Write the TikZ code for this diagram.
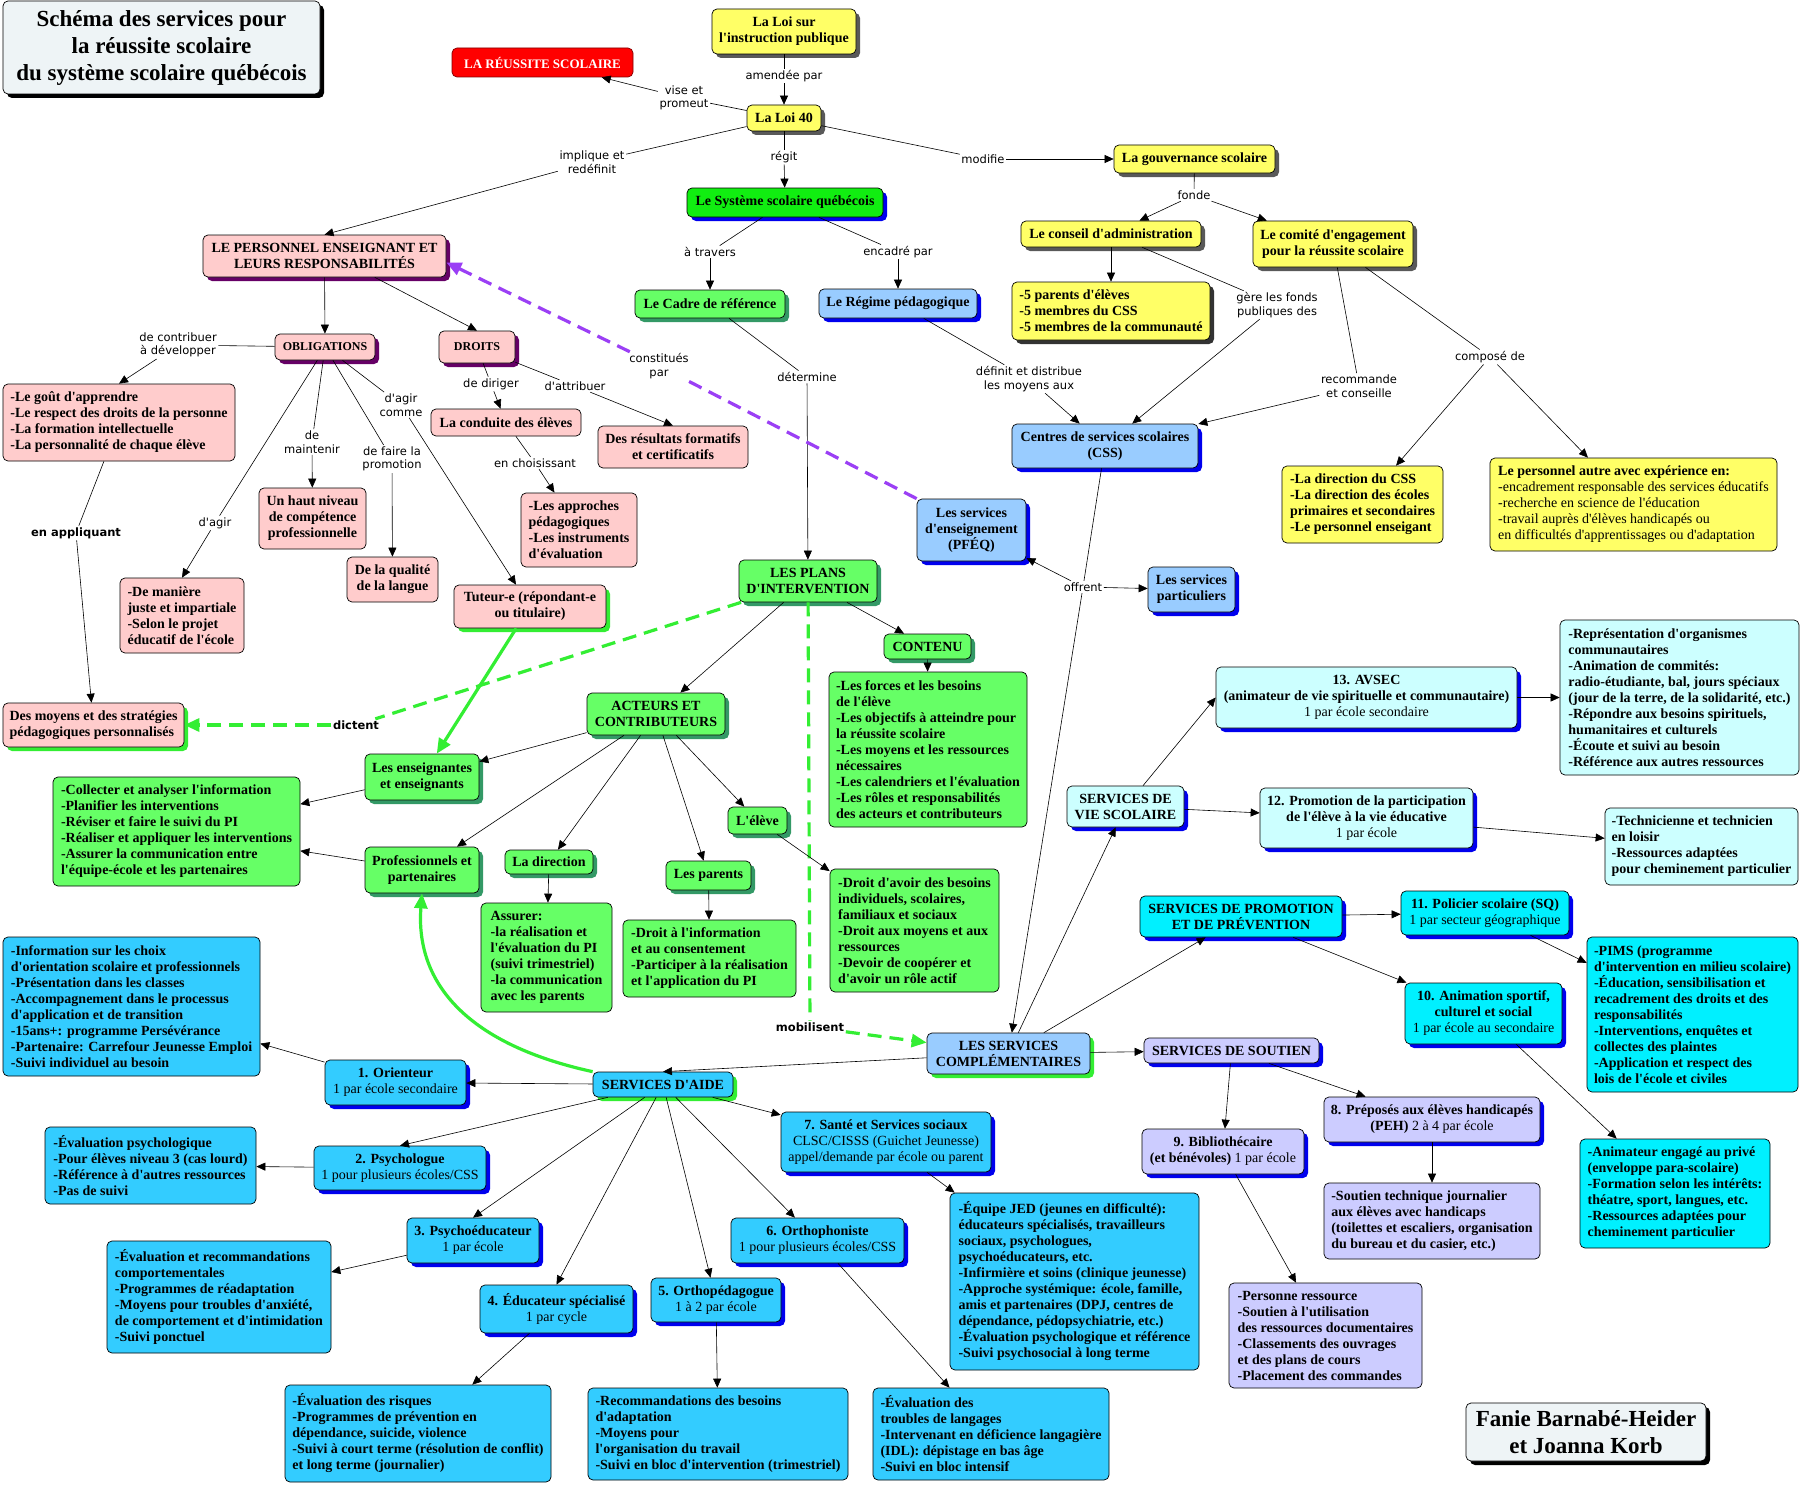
\documentclass[tikz,border=0pt]{standalone}
\usepackage{fontspec}
\setmainfont{Liberation Serif}[Ligatures=TeXOff]
\newfontfamily\lblfont{DejaVu Sans}[Ligatures=TeXOff]
\usetikzlibrary{arrows.meta,shadows}
\definecolor{cyel}{HTML}{FFFF66}
\definecolor{cpink}{HTML}{FFCCCC}
\definecolor{cpurp}{HTML}{660066}
\definecolor{cgreen}{HTML}{66FF66}
\definecolor{cdkgreen}{HTML}{339966}
\definecolor{cbright}{HTML}{11EE11}
\definecolor{cblue}{HTML}{99CCFF}
\definecolor{cshblue}{HTML}{0000EE}
\definecolor{caide}{HTML}{33CCFF}
\definecolor{ccyan}{HTML}{00F0FF}
\definecolor{cpale}{HTML}{CCFFFF}
\definecolor{clav}{HTML}{CCCCFF}
\definecolor{ctitle}{HTML}{EEF4F6}
\definecolor{cgrn}{HTML}{33EE33}
\definecolor{cpurline}{HTML}{9B3FF5}
\newcommand\mdtxt[1]{{\mdseries #1}}
\newcommand\mkbox[7]{%
  \pgfmathsetmacro\bxw{#5-#3}%
  \pgfmathsetmacro\bxh{#6-#4}%
  \pgfmathsetmacro\bxcx{(#3+#5)/2}%
  \pgfmathsetmacro\bxcy{(#4+#6)/2}%
  \node[box,#2,minimum width=\bxw pt,minimum height=\bxh pt] (#1) at (\bxcx,\bxcy) {#7};}
\begin{document}
\begin{tikzpicture}[x=1pt,y=-1pt,
  box/.style={rounded corners=5pt,draw=black,line width=0.7pt,font=\bfseries\fontsize{14}{16}\selectfont,inner sep=3pt,align=center},
  sh/.style={general shadow={shadow xshift=4pt,shadow yshift=-4pt,fill=#1}},
  lbl/.style={font=\lblfont\fontsize{11.5}{13.5}\selectfont,inner sep=1.5pt,align=center},
  blbl/.style={font=\lblfont\bfseries\fontsize{11.5}{13.5}\selectfont,inner sep=1.5pt,align=center},
  ln/.style={line width=0.6pt},
  arr/.style={line width=0.6pt,-{Triangle[length=9pt,width=8pt]}},
  garr/.style={line width=3.2pt,draw=cgrn,-{Triangle[length=15pt,width=13pt]}},
  gdash/.style={line width=3.2pt,draw=cgrn,dash pattern=on 14pt off 8pt},
  gdasharr/.style={gdash,-{Triangle[length=15pt,width=13pt]}},
  purp/.style={line width=3.2pt,draw=cpurline,dash pattern=on 14pt off 8pt},
  purparr/.style={purp,-{Triangle[length=15pt,width=13pt]}}]
\useasboundingbox (0,0) rectangle (1802,1485);
\fill[white] (0,0) rectangle (1802,1485);
% titles
\mkbox{title}{fill=ctitle,sh=black,font=\bfseries\fontsize{23}{27}\selectfont}{3}{1}{320}{94}{Schéma des services pour\\la réussite scolaire\\du système scolaire québécois}
\mkbox{fanie}{fill=ctitle,sh=black,font=\bfseries\fontsize{23}{27}\selectfont}{1466}{1403}{1706}{1461}{Fanie Barnabé-Heider\\et Joanna Korb}
\mkbox{reussite}{fill=red,draw=red!50!black,text=white,font=\bfseries\fontsize{13}{15}\selectfont}{452}{48}{633}{77}{LA RÉUSSITE SCOLAIRE}
% yellow
\mkbox{loisur}{fill=cyel,sh=black!65}{712}{9}{856}{54}{La Loi sur\\l'instruction publique}
\mkbox{loi}{fill=cyel,sh=black!65}{747}{105}{821}{131}{La Loi 40}
\mkbox{gouv}{fill=cyel,sh=black!65}{1114}{145}{1275}{173}{La gouvernance scolaire}
\mkbox{conseil}{fill=cyel,sh=black!65}{1021}{221}{1201}{247}{Le conseil d'administration}
\mkbox{cinq}{fill=cyel,sh=black!80,align=left}{1012}{282}{1210}{340}{-5 parents d'élèves\\-5 membres du CSS\\-5 membres de la communauté}
\mkbox{comite}{fill=cyel,sh=black!65}{1253}{221}{1413}{267}{Le comité d'engagement\\pour la réussite scolaire}
\mkbox{dircss}{fill=cyel,align=left}{1282}{466}{1443}{543}{-La direction du CSS\\-La direction des écoles\\primaires et secondaires\\-Le personnel enseigant}
\mkbox{autre}{fill=cyel,align=left}{1490}{458}{1777}{551}{Le personnel autre avec expérience en:\\\mdtxt{-encadrement responsable des services éducatifs}\\\mdtxt{-recherche en science de l'éducation}\\\mdtxt{-travail auprès d'élèves handicapés ou}\\\mdtxt{en difficultés d'apprentissages ou d'adaptation}}
% pink
\mkbox{personnel}{fill=cpink,sh=cpurp}{203}{235}{446}{277}{LE PERSONNEL ENSEIGNANT ET\\LEURS RESPONSABILITÉS}
\mkbox{oblig}{fill=cpink,sh=cpurp,font=\bfseries\fontsize{12}{14}\selectfont}{275}{334}{375}{360}{OBLIGATIONS}
\mkbox{droits}{fill=cpink,sh=cpurp,font=\bfseries\fontsize{12}{14}\selectfont}{439}{331}{515}{363}{DROITS}
\mkbox{gout}{fill=cpink,align=left}{3}{384}{235}{461}{-Le goût d'apprendre\\-Le respect des droits de la personne\\-La formation intellectuelle\\-La personnalité de chaque élève}
\mkbox{haut}{fill=cpink}{259}{488}{366}{549}{Un haut niveau\\de compétence\\professionnelle}
\mkbox{qualite}{fill=cpink}{347}{557}{438}{602}{De la qualité\\de la langue}
\mkbox{maniere}{fill=cpink,align=left}{120}{578}{244}{653}{-De manière\\juste et impartiale\\-Selon le projet\\éducatif de l'école}
\mkbox{tuteur}{fill=cpink,sh=cgrn}{454}{585}{606}{628}{Tuteur-e (répondant-e\\ou titulaire)}
\mkbox{conduite}{fill=cpink}{431}{409}{581}{436}{La conduite des élèves}
\mkbox{approches}{fill=cpink,align=left}{521}{493}{637}{567}{-Les approches\\pédagogiques\\-Les instruments\\d'évaluation}
\mkbox{resultats}{fill=cpink}{598}{426}{748}{468}{Des résultats formatifs\\et certificatifs}
\mkbox{moyens}{fill=cpink,sh=cgrn,align=left}{3}{703}{184}{747}{Des moyens et des stratégies\\pédagogiques personnalisés}
% green
\mkbox{systeme}{fill=cbright,sh=cshblue}{687}{188}{883}{217}{Le Système scolaire québécois}
\mkbox{cadre}{fill=cgreen,sh=cdkgreen}{635}{290}{785}{318}{Le Cadre de référence}
\mkbox{plans}{fill=cgreen,sh=cdkgreen}{739}{560}{877}{602}{LES PLANS\\D'INTERVENTION}
\mkbox{contenu}{fill=cgreen,sh=cdkgreen}{884}{634}{971}{659}{CONTENU}
\mkbox{contenubox}{fill=cgreen,align=left}{829}{672}{1027}{827}{-Les forces et les besoins\\de l'élève\\-Les objectifs à atteindre pour\\la réussite scolaire\\-Les moyens et les ressources\\nécessaires\\-Les calendriers et l'évaluation\\-Les rôles et responsabilités\\des acteurs et contributeurs}
\mkbox{acteurs}{fill=cgreen,sh=cdkgreen}{587}{693}{725}{735}{ACTEURS ET\\CONTRIBUTEURS}
\mkbox{enseign}{fill=cgreen,sh=cdkgreen}{365}{754}{479}{800}{Les enseignantes\\et enseignants}
\mkbox{collecter}{fill=cgreen,align=left}{53}{777}{300}{886}{-Collecter et analyser l'information\\-Planifier les interventions\\-Réviser et faire le suivi du PI\\-Réaliser et appliquer les interventions\\-Assurer la communication entre\\l'équipe-école et les partenaires}
\mkbox{prof}{fill=cgreen,sh=cdkgreen}{365}{847}{479}{893}{Professionnels et\\partenaires}
\mkbox{direction}{fill=cgreen,sh=cdkgreen}{505}{850}{593}{874}{La direction}
\mkbox{assurer}{fill=cgreen,align=left}{481}{903}{612}{1012}{Assurer:\\-la réalisation et\\l'évaluation du PI\\(suivi trimestriel)\\-la communication\\avec les parents}
\mkbox{parents}{fill=cgreen,sh=cdkgreen}{666}{861}{751}{890}{Les parents}
\mkbox{droitinfo}{fill=cgreen,align=left}{623}{920}{796}{997}{-Droit à l'information\\et au consentement\\-Participer à la réalisation\\et l'application du PI}
\mkbox{eleve}{fill=cgreen,sh=cdkgreen}{728}{807}{787}{834}{L'élève}
\mkbox{droitavoir}{fill=cgreen,align=left}{830}{869}{999}{992}{-Droit d'avoir des besoins\\individuels, scolaires,\\familiaux et sociaux\\-Droit aux moyens et aux\\ressources\\-Devoir de coopérer et\\d'avoir un rôle actif}
% light blue
\mkbox{regime}{fill=cblue,sh=cshblue}{819}{289}{977}{318}{Le Régime pédagogique}
\mkbox{css}{fill=cblue,sh=cshblue}{1012}{424}{1198}{468}{Centres de services scolaires\\(CSS)}
\mkbox{enseignement}{fill=cblue,sh=cshblue}{917}{499}{1026}{561}{Les services\\d'enseignement\\(PFÉQ)}
\mkbox{particuliers}{fill=cblue,sh=cshblue}{1148}{567}{1235}{612}{Les services\\particuliers}
\mkbox{compl}{fill=cblue,sh=cgrn}{927}{1033}{1090}{1074}{LES SERVICES\\COMPLÉMENTAIRES}
% services d'aide
\mkbox{aide}{fill=caide,sh=cgrn}{593}{1072}{733}{1097}{SERVICES D'AIDE}
\mkbox{orienteur}{fill=caide,sh=cshblue}{325}{1060}{466}{1105}{1. Orienteur\\\mdtxt{1 par école secondaire}}
\mkbox{infobox}{fill=caide,align=left}{3}{937}{260}{1076}{-Information sur les choix\\d'orientation scolaire et professionnels\\-Présentation dans les classes\\-Accompagnement dans le processus\\d'application et de transition\\-15ans+: programme Persévérance\\-Partenaire: Carrefour Jeunesse Emploi\\-Suivi individuel au besoin}
\mkbox{psycho}{fill=caide,sh=cshblue}{314}{1146}{486}{1190}{2. Psychologue\\\mdtxt{1 pour plusieurs écoles/CSS}}
\mkbox{evalpsy}{fill=caide,align=left}{45}{1127}{256}{1204}{-Évaluation psychologique\\-Pour élèves niveau 3 (cas lourd)\\-Référence à d'autres ressources\\-Pas de suivi}
\mkbox{psychoed}{fill=caide,sh=cshblue}{407}{1218}{539}{1263}{3. Psychoéducateur\\\mdtxt{1 par école}}
\mkbox{evalrec}{fill=caide,align=left}{107}{1241}{331}{1353}{-Évaluation et recommandations\\comportementales\\-Programmes de réadaptation\\-Moyens pour troubles d'anxiété,\\de comportement et d'intimidation\\-Suivi ponctuel}
\mkbox{educ}{fill=caide,sh=cshblue}{480}{1285}{633}{1333}{4. Éducateur spécialisé\\\mdtxt{1 par cycle}}
\mkbox{risques}{fill=caide,align=left}{285}{1385}{551}{1482}{-Évaluation des risques\\-Programmes de prévention en\\dépendance, suicide, violence\\-Suivi à court terme (résolution de conflit)\\et long terme (journalier)}
\mkbox{orthoped}{fill=caide,sh=cshblue}{651}{1278}{781}{1322}{5. Orthopédagogue\\\mdtxt{1 à 2 par école}}
\mkbox{recomm}{fill=caide,align=left}{588}{1388}{848}{1480}{-Recommandations des besoins\\d'adaptation\\-Moyens pour\\l'organisation du travail\\-Suivi en bloc d'intervention (trimestriel)}
\mkbox{orthoph}{fill=caide,sh=cshblue}{731}{1218}{904}{1263}{6. Orthophoniste\\\mdtxt{1 pour plusieurs écoles/CSS}}
\mkbox{troubles}{fill=caide,align=left}{873}{1388}{1109}{1480}{-Évaluation des\\troubles de langages\\-Intervenant en déficience langagière\\(IDL): dépistage en bas âge\\-Suivi en bloc intensif}
\mkbox{sante}{fill=caide,sh=cshblue}{781}{1112}{991}{1172}{7. Santé et Services sociaux\\\mdtxt{CLSC/CISSS (Guichet Jeunesse)}\\\mdtxt{appel/demande par école ou parent}}
\mkbox{jed}{fill=caide,align=left}{950}{1193}{1199}{1370}{-Équipe JED (jeunes en difficulté):\\éducateurs spécialisés, travailleurs\\sociaux, psychologues,\\psychoéducateurs, etc.\\-Infirmière et soins (clinique jeunesse)\\-Approche systémique: école, famille,\\amis et partenaires (DPJ, centres de\\dépendance, pédopsychiatrie, etc.)\\-Évaluation psychologique et référence\\-Suivi psychosocial à long terme}
% promotion / prevention
\mkbox{promo}{fill=ccyan,sh=cshblue}{1140}{896}{1342}{937}{SERVICES DE PROMOTION\\ET DE PRÉVENTION}
\mkbox{policier}{fill=ccyan,sh=cshblue}{1401}{891}{1569}{935}{11. Policier scolaire (SQ)\\\mdtxt{1 par secteur géographique}}
\mkbox{pims}{fill=ccyan,align=left}{1587}{937}{1798}{1092}{-PIMS (programme\\d'intervention en milieu scolaire)\\-Éducation, sensibilisation et\\recadrement des droits et des\\responsabilités\\-Interventions, enquêtes et\\collectes des plaintes\\-Application et respect des\\lois de l'école et civiles}
\mkbox{animation}{fill=ccyan,sh=cshblue}{1405}{983}{1562}{1044}{10. Animation sportif,\\culturel et social\\\mdtxt{1 par école au secondaire}}
\mkbox{animateur}{fill=ccyan,align=left}{1580}{1139}{1770}{1248}{-Animateur engagé au privé\\(enveloppe para-scolaire)\\-Formation selon les intérêts:\\théatre, sport, langues, etc.\\-Ressources adaptées pour\\cheminement particulier}
% vie scolaire
\mkbox{vie}{fill=cpale,sh=cshblue}{1067}{786}{1184}{827}{SERVICES DE\\VIE SCOLAIRE}
\mkbox{avsec}{fill=cpale,sh=cshblue}{1216}{667}{1517}{728}{13. AVSEC\\(animateur de vie spirituelle et communautaire)\\\mdtxt{1 par école secondaire}}
\mkbox{repres}{fill=cpale,align=left}{1560}{620}{1799}{775}{-Représentation d'organismes\\communautaires\\-Animation de commités:\\radio-étudiante, bal, jours spéciaux\\(jour de la terre, de la solidarité, etc.)\\-Répondre aux besoins spirituels,\\humanitaires et culturels\\-Écoute et suivi au besoin\\-Référence aux autres ressources}
\mkbox{promotion}{fill=cpale,sh=cshblue}{1260}{788}{1473}{848}{12. Promotion de la participation\\de l'élève à la vie éducative\\\mdtxt{1 par école}}
\mkbox{techn}{fill=cpale,align=left}{1605}{808}{1798}{885}{-Technicienne et technicien\\en loisir\\-Ressources adaptées\\pour cheminement particulier}
% soutien
\mkbox{soutien}{fill=clav,sh=cshblue}{1144}{1038}{1319}{1063}{SERVICES DE SOUTIEN}
\mkbox{biblio}{fill=clav,sh=cshblue}{1142}{1129}{1304}{1174}{9. Bibliothécaire\\(et bénévoles) \mdtxt{1 par école}}
\mkbox{preposes}{fill=clav,sh=cshblue}{1324}{1097}{1540}{1142}{8. Préposés aux élèves handicapés\\(PEH) \mdtxt{2 à 4 par école}}
\mkbox{soutientech}{fill=clav,align=left}{1324}{1183}{1540}{1259}{-Soutien technique journalier\\aux élèves avec handicaps\\(toilettes et escaliers, organisation\\du bureau et du casier, etc.)}
\mkbox{personne}{fill=clav,align=left}{1229}{1283}{1422}{1388}{-Personne ressource\\-Soutien à l'utilisation\\des ressources documentaires\\-Classements des ouvrages\\et des plans de cours\\-Placement des commandes}
% labels
\node[lbl] (lamendee) at (784,76) {amendée par};
\node[lbl] (lvise) at (684,98) {vise et\\promeut};
\node[lbl] (limplique) at (592,162) {implique et\\redéfinit};
\node[lbl] (lregit) at (784,157) {régit};
\node[lbl] (lmodifie) at (983,159) {modifie};
\node[lbl] (lfonde) at (1194,195) {fonde};
\node[lbl] (latravers) at (710,252) {à travers};
\node[lbl] (lencadre) at (898,252) {encadré par};
\node[lbl] (lgere) at (1277,305) {gère les fonds\\publiques des};
\node[lbl] (lrecommande) at (1359,386) {recommande\\et conseille};
\node[lbl] (lcompose) at (1490,357) {composé de};
\node[lbl] (ldetermine) at (807,377) {détermine};
\node[lbl] (ldefinit) at (1029,379) {définit et distribue\\les moyens aux};
\node[lbl] (lconstitues) at (659,366) {constitués\\par};
\node[lbl] (loffrent) at (1083,587) {offrent};
\node[lbl] (lcontribuer) at (178,345) {de contribuer\\à développer};
\node[lbl] (lagir) at (215,523) {d'agir};
\node[lbl] (lmaintenir) at (312,442) {de\\maintenir};
\node[lbl] (lpromotion) at (392,459) {de faire la\\promotion};
\node[lbl] (lagircomme) at (401,405) {d'agir\\comme};
\node[blbl] (lappliquant) at (76,533) {en appliquant};
\node[lbl] (ldiriger) at (491,384) {de diriger};
\node[lbl] (lattribuer) at (575,386) {d'attribuer};
\node[lbl] (lchoisissant) at (535,463) {en choisissant};
\node[blbl] (ldictent) at (356,725) {dictent};
\node[blbl] (lmobilisent) at (810,1027) {mobilisent};
% connectors: top
\draw[ln] (loisur) -- (lamendee);
\draw[arr] (lamendee) -- (loi);
\draw[ln] (loi) -- (lvise);
\draw[arr] (lvise) -- (reussite);
\draw[ln] (loi) -- (limplique);
\draw[arr] (limplique) -- (personnel.north);
\draw[ln] (loi) -- (lregit);
\draw[arr] (lregit) -- (systeme);
\draw[ln] (loi) -- (lmodifie);
\draw[arr] (lmodifie) -- (gouv);
\draw[ln] (gouv) -- (lfonde);
\draw[arr] (lfonde) -- (conseil);
\draw[arr] (lfonde) -- (comite);
\draw[arr] (conseil) -- (cinq);
\draw[ln] (conseil) -- (lgere);
\draw[arr] (lgere) -- (css);
\draw[ln] (comite) -- (lrecommande);
\draw[arr] (lrecommande) -- (css);
\draw[ln] (comite) -- (lcompose);
\draw[arr] (lcompose) -- (dircss);
\draw[arr] (lcompose) -- (autre);
\draw[ln] (systeme) -- (latravers);
\draw[arr] (latravers) -- (cadre);
\draw[ln] (systeme) -- (lencadre);
\draw[arr] (lencadre) -- (regime);
\draw[ln] (cadre) -- (ldetermine);
\draw[arr] (ldetermine) -- (plans);
\draw[ln] (regime) -- (ldefinit);
\draw[arr] (ldefinit) -- (css);
\draw[ln] (css) -- (loffrent);
\draw[arr] (loffrent) -- (enseignement);
\draw[arr] (loffrent) -- (particuliers);
\draw[arr] (loffrent) -- (compl);
% personnel
\draw[arr] (personnel) -- (oblig);
\draw[arr] (personnel.-23) -- (droits.north);
\draw[ln] (oblig) -- (lcontribuer);
\draw[arr] (lcontribuer) -- (gout.north);
\draw[ln] (oblig.-120) -- (lagir);
\draw[arr] (lagir) -- (maniere.north);
\draw[ln] (oblig) -- (lmaintenir);
\draw[arr] (lmaintenir) -- (haut);
\draw[ln] (oblig) -- (lpromotion);
\draw[arr] (lpromotion) -- (qualite);
\draw[ln] (oblig) -- (lagircomme);
\draw[arr] (lagircomme) -- (tuteur);
\draw[ln] (gout) -- (lappliquant);
\draw[arr] (lappliquant) -- (moyens);
\draw[ln] (droits) -- (ldiriger);
\draw[arr] (ldiriger) -- (conduite);
\draw[ln] (droits) -- (lattribuer);
\draw[arr] (lattribuer) -- (resultats.north);
\draw[ln] (conduite) -- (lchoisissant);
\draw[arr] (lchoisissant) -- (approches);
\draw[purp] (enseignement.north west) -- (lconstitues);
\draw[purparr] (lconstitues) -- (personnel.-3);
% plans
\draw[gdash] (plans) -- (ldictent);
\draw[gdasharr] (ldictent) -- (moyens);
\draw[gdash] (plans) -- (lmobilisent);
\draw[gdasharr] (lmobilisent) -- (compl);
\draw[arr] (plans) -- (acteurs);
\draw[arr] (plans) -- (contenu);
\draw[arr] (contenu) -- (contenubox);
\draw[garr] (tuteur) -- (enseign);
\draw[arr] (acteurs) -- (enseign);
\draw[arr] (acteurs) -- (prof);
\draw[arr] (acteurs) -- (direction);
\draw[arr] (acteurs) -- (parents);
\draw[arr] (acteurs) -- (eleve);
\draw[arr] (enseign) -- (collecter);
\draw[arr] (prof) -- (collecter);
\draw[arr] (direction) -- (assurer);
\draw[arr] (parents) -- (droitinfo);
\draw[arr] (eleve) -- (droitavoir);
% services d'aide
\draw[garr] (aide.north west) .. controls (470,1045) and (415,985) .. (prof.south);
\draw[arr] (compl) -- (aide.north);
\draw[arr] (aide) -- (orienteur);
\draw[arr] (orienteur) -- (infobox);
\draw[arr] (aide) -- (psycho.north);
\draw[arr] (psycho) -- (evalpsy);
\draw[arr] (aide) -- (psychoed.north);
\draw[arr] (psychoed) -- (evalrec);
\draw[arr] (aide) -- (educ.north);
\draw[arr] (educ) -- (risques);
\draw[arr] (aide) -- (orthoped);
\draw[arr] (orthoped) -- (recomm);
\draw[arr] (aide) -- (orthoph);
\draw[arr] (orthoph) -- (troubles);
\draw[arr] (aide) -- (sante);
\draw[arr] (sante) -- (jed);
% services complementaires
\draw[arr] (compl) -- (vie);
\draw[arr] (compl) -- (promo);
\draw[arr] (compl) -- (soutien);
\draw[arr] (vie.50) -- (avsec.west);
\draw[arr] (vie) -- (promotion);
\draw[arr] (avsec) -- (repres);
\draw[arr] (promotion) -- (techn);
\draw[arr] (promo) -- (policier);
\draw[arr] (promo) -- (animation);
\draw[arr] (policier) -- (pims);
\draw[arr] (animation) -- (animateur);
\draw[arr] (soutien) -- (biblio);
\draw[arr] (soutien) -- (preposes);
\draw[arr] (preposes) -- (soutientech);
\draw[arr] (biblio) -- (personne);
\end{tikzpicture}
\end{document}
